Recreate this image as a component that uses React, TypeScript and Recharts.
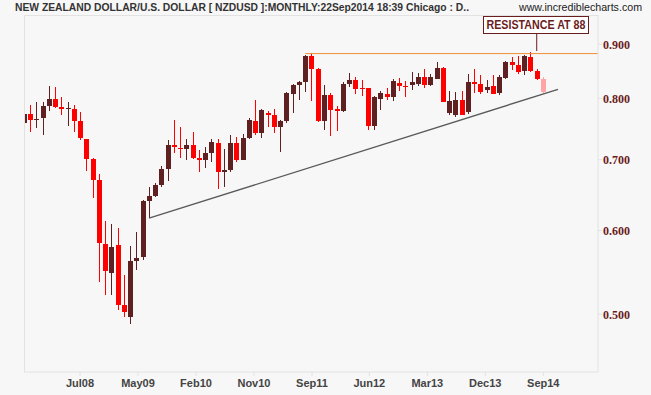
import React from "react";
import { ComposedChart, Bar, XAxis, YAxis, ReferenceLine } from "recharts";

// monthly NZDUSD candles, Oct07 .. Sep14
const OPEN = [
  0.759, 0.773, 0.763, 0.767, 0.787, 0.799, 0.785, 0.782, 0.782, 0.762,
  0.732, 0.701, 0.67, 0.583, 0.547, 0.582, 0.51, 0.497, 0.561, 0.567,
  0.64, 0.647, 0.662, 0.686, 0.723, 0.718, 0.716, 0.723, 0.703, 0.699,
  0.711, 0.726, 0.681, 0.685, 0.726, 0.7, 0.734, 0.762, 0.742, 0.775,
  0.772, 0.752, 0.762, 0.808, 0.824, 0.829, 0.877, 0.853, 0.762, 0.806,
  0.782, 0.778, 0.826, 0.833, 0.818, 0.818, 0.753, 0.799, 0.808, 0.8025,
  0.827, 0.822, 0.824, 0.826, 0.838, 0.824, 0.835, 0.855, 0.775, 0.772,
  0.797, 0.776, 0.829, 0.826, 0.815, 0.822, 0.81, 0.837, 0.866, 0.86,
  0.849, 0.876, 0.849, 0.835,
];
const HIGH = [
  0.776, 0.789, 0.794, 0.794, 0.822, 0.82, 0.803, 0.794, 0.789, 0.777,
  0.733, 0.702, 0.679, 0.613, 0.609, 0.604, 0.545, 0.58, 0.598, 0.641,
  0.66, 0.665, 0.691, 0.731, 0.763, 0.752, 0.732, 0.744, 0.715, 0.719,
  0.732, 0.732, 0.717, 0.739, 0.736, 0.74, 0.767, 0.797, 0.781, 0.778,
  0.782, 0.763, 0.811, 0.826, 0.831, 0.879, 0.883, 0.854, 0.824, 0.81,
  0.787, 0.829, 0.846, 0.838, 0.832, 0.819, 0.804, 0.813, 0.818, 0.835,
  0.836, 0.831, 0.847, 0.846, 0.853, 0.844, 0.866, 0.857, 0.813, 0.811,
  0.813, 0.844, 0.853, 0.842, 0.833, 0.841, 0.841, 0.868, 0.876, 0.877,
  0.879, 0.885, 0.853, 0.838,
];
const LOW = [
  0.736, 0.744, 0.75, 0.739, 0.779, 0.784, 0.772, 0.753, 0.744, 0.731,
  0.683, 0.644, 0.536, 0.522, 0.521, 0.505, 0.497, 0.49, 0.551, 0.563,
  0.616, 0.646, 0.66, 0.669, 0.71, 0.703, 0.699, 0.701, 0.682, 0.687,
  0.697, 0.657, 0.659, 0.681, 0.696, 0.699, 0.732, 0.739, 0.734, 0.752,
  0.742, 0.712, 0.758, 0.775, 0.797, 0.811, 0.796, 0.76, 0.747, 0.737,
  0.745, 0.777, 0.82, 0.808, 0.804, 0.747, 0.747, 0.78, 0.797, 0.796,
  0.813, 0.8025, 0.815, 0.822, 0.818, 0.822, 0.834, 0.794, 0.772, 0.768,
  0.771, 0.773, 0.81, 0.807, 0.81, 0.807, 0.806, 0.834, 0.851, 0.844,
  0.842, 0.847, 0.833, 0.81,
];
const CLOSE = [
  0.773, 0.763, 0.765, 0.787, 0.799, 0.785, 0.782, 0.784, 0.762, 0.734,
  0.701, 0.67, 0.584, 0.55, 0.579, 0.51, 0.502, 0.561, 0.565, 0.64,
  0.647, 0.663, 0.686, 0.723, 0.719, 0.717, 0.723, 0.702, 0.699, 0.71,
  0.728, 0.681, 0.685, 0.726, 0.7, 0.734, 0.763, 0.742, 0.78, 0.772,
  0.752, 0.762, 0.81, 0.824, 0.829, 0.877, 0.853, 0.762, 0.806, 0.78,
  0.778, 0.826, 0.833, 0.817, 0.817, 0.753, 0.803, 0.809, 0.8025, 0.831,
  0.822, 0.82, 0.829, 0.838, 0.824, 0.838, 0.855, 0.794, 0.7955, 0.797,
  0.772, 0.829, 0.8255, 0.8105, 0.82, 0.808, 0.838, 0.866, 0.86, 0.847,
  0.877, 0.849, 0.8345, 0.811,
];

const TICK_POS = [8.96, 18.23, 27.51, 36.78, 46.06, 55.22, 64.5, 73.77, 83.05];
const TICK_LABELS = ["Jul08", "May09", "Feb10", "Nov10", "Sep11", "Jun12", "Mar13", "Dec13", "Sep14"];
const PRICE_TICKS = [0.5, 0.6, 0.7, 0.8, 0.9];

const RESISTANCE = 0.882;
const TREND = [
  { x: 20, y: 0.6164 },
  { x: 85.4, y: 0.816 },
];

const DARK = "#5e2020";
const RED = "#ff0000";
const PINK = "#ffa5a5";
const MAROON = "#6b1c1c";
const FRAME = "#e2e2e2";
const BG = "#f7f7f7";

const data = OPEN.map((o, i) => ({
  i,
  open: o,
  high: HIGH[i],
  low: LOW[i],
  close: CLOSE[i],
  live: i === OPEN.length - 1,
}));

function Candle(props: any) {
  const { x, y, width, height, payload } = props;
  if (!payload || height == null) return null;
  const { open, high, low, close, live } = payload;
  const lh = Math.log(high);
  const span = lh - Math.log(low) || 1;
  // bar spans low..high on a log axis, so place open/close by log interpolation
  const py = (v: number) => y + (height * (lh - Math.log(v))) / span;
  const bx = Math.round(x + width / 2 - 2.5);
  const color = live ? PINK : close >= open ? DARK : RED;
  const top = Math.round(py(Math.max(open, close)));
  const bot = Math.round(py(Math.min(open, close)));
  const wt = Math.round(y);
  const wb = Math.round(y + height);
  return (
    <g>
      <rect x={bx + 2} y={wt} width={1} height={Math.max(1, wb - wt)} fill={color} />
      <rect x={bx} y={top} width={5} height={Math.max(1, bot - top)} fill={color} />
    </g>
  );
}

export default function App() {
  return (
    <div style={{ position: "absolute", left: 0, top: 0, width: 651, height: 395, background: BG }}>
      <ComposedChart
        width={651}
        height={395}
        data={data}
        margin={{ top: 15, right: 0, bottom: 0, left: 24 }}
      >
        <XAxis
          type="number"
          dataKey="i"
          domain={[0, 91.8]}
          allowDataOverflow
          ticks={TICK_POS}
          interval={0}
          tickFormatter={(v) => TICK_LABELS[TICK_POS.indexOf(v)]}
          height={23}
          tickSize={4}
          tickMargin={3}
          axisLine={{ stroke: FRAME }}
          tickLine={{ stroke: FRAME }}
          tick={{ fill: "#444", fontSize: 11, fontWeight: "bold", fontFamily: "Liberation Sans, Arial, sans-serif" }}
        />
        <YAxis
          orientation="right"
          scale="log"
          domain={[0.441, 0.9593]}
          allowDataOverflow
          ticks={PRICE_TICKS}
          interval={0}
          tickFormatter={(v) => Number(v).toFixed(3)}
          width={53}
          tickSize={4}
          tickMargin={1}
          axisLine={{ stroke: FRAME }}
          tickLine={{ stroke: FRAME }}
          tick={{ fill: MAROON, fontSize: 12, fontWeight: "bold", fontFamily: "Liberation Serif, Times New Roman, serif" }}
        />
        <ReferenceLine
          segment={[{ x: 45, y: RESISTANCE }, { x: 91.8, y: RESISTANCE }]}
          stroke="#ef8e35"
          strokeWidth={1}
        />
        <ReferenceLine segment={TREND} stroke="#5a5a5a" strokeWidth={1.4} />
        <ReferenceLine
          segment={[{ x: 82, y: 0.887 }, { x: 82, y: 0.9218 }]}
          stroke={MAROON}
          strokeWidth={1}
        />
        <Bar
          dataKey={(d: any) => [d.low, d.high]}
          barSize={5}
          shape={(p: any) => <Candle {...p} />}
          isAnimationActive={false}
        />
      </ComposedChart>
      <svg
        width={651}
        height={395}
        style={{ position: "absolute", left: 0, top: 0, pointerEvents: "none" }}
      >
        <line x1={24.5} y1={15} x2={24.5} y2={372} stroke={FRAME} />
        <line x1={24} y1={15.5} x2={598} y2={15.5} stroke={FRAME} />
        <text
          x={15}
          y={11}
          fontSize={10}
          fontWeight="bold"
          fill="#333"
          fontFamily="Liberation Sans, Arial, sans-serif"
          textLength={454}
          lengthAdjust="spacingAndGlyphs"
        >
          NEW ZEALAND DOLLAR/U.S. DOLLAR [ NZDUSD ]:MONTHLY:22Sep2014 18:39 Chicago : D..
        </text>
        <text
          x={519}
          y={11}
          fontSize={11}
          fill="#222"
          fontFamily="Liberation Sans, Arial, sans-serif"
          textLength={123}
          lengthAdjust="spacingAndGlyphs"
        >
          www.incrediblecharts.com
        </text>
        <rect x={483.5} y={16.5} width={105} height={17} fill="#ffffff" stroke={MAROON} />
        <text
          x={486.5}
          y={29.3}
          fontSize={12}
          fontWeight="bold"
          fill={MAROON}
          fontFamily="Liberation Sans, Arial, sans-serif"
          textLength={99}
          lengthAdjust="spacingAndGlyphs"
        >
          RESISTANCE AT 88
        </text>
      </svg>
    </div>
  );
}
